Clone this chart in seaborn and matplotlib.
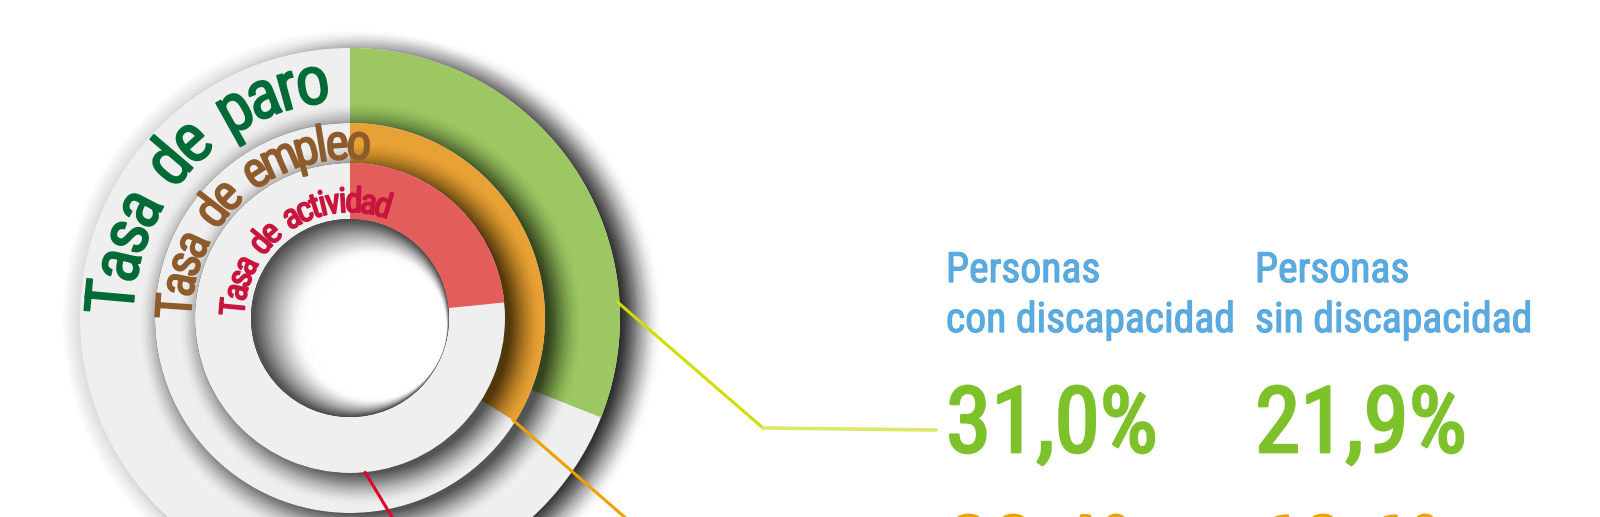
import numpy as np
import matplotlib
matplotlib.use('Agg')
import matplotlib.pyplot as plt
import matplotlib.patheffects as pe
from matplotlib import font_manager as fm
from matplotlib.patches import Circle, Wedge
import seaborn as sns

# Data read from the infographic
ring_labels = ['Tasa de paro', 'Tasa de empleo', 'Tasa de actividad']
ring_values = [31.0, 33.9, 23.4]          # arc extent of each ring (%)
ring_colors = ['#9cc763', '#e8a134', '#e35d5b']
label_colors = ['#006b36', '#8e5b2c', '#c8153d']

groups = ['Personas\ncon discapacidad', 'Personas\nsin discapacidad']
paro = [31.0, 21.9]
empleo = [23.4, 60.6]
row_colors = ['#7dc22b', '#f0a000']
lead_colors = ['#d2dc00', '#f0a000', '#e4002b']


def pick_font(names):
    for n in names:
        try:
            fm.findfont(fm.FontProperties(family=n), fallback_to_default=False)
            return n
        except ValueError:
            continue
    return 'DejaVu Sans'


COND = pick_font(['Roboto Condensed', 'Liberation Sans Narrow', 'Liberation Sans'])

sns.set_theme(style='white')
plt.rcParams['font.family'] = [COND, 'DejaVu Sans']

W, H = 1600, 517
cx, cy = 350, 318
bands = [(195, 270), (155, 195), (99, 155)]

fig = plt.figure(figsize=(16, 5.17), dpi=100)
ax = fig.add_axes([0, 0, 1, 1])
ax.set_xlim(0, W)
ax.set_ylim(H, 0)
ax.axis('off')


def shadow(r0, off, n, step, amax, z):
    for k in range(n):
        a = amax * (1 - k / n)
        ax.add_patch(Circle((cx + off[0], cy + off[1]), r0 + k * step,
                            fc='black', alpha=a, lw=0, zorder=z))


# outer halo + drop shadow
for k in range(12):
    ax.add_patch(Circle((cx, cy), 270 + k * 1.6, fc='black', alpha=0.012, lw=0, zorder=1))
shadow(250, (22, 4), 30, 1.4, 0.085, 1)

z = 2
for i, (r_in, r_out) in enumerate(bands):
    if i > 0:
        shadow(r_out - 5, (10, 6), 22, 1.5, 0.08, z)
    ax.add_patch(Wedge((cx, cy), r_out, 0, 360, width=r_out - r_in,
                       fc='#efefef', lw=0, zorder=z + 1))
    ax.add_patch(Wedge((cx, cy), r_out, -90, -90 + ring_values[i] * 3.6,
                       width=r_out - r_in, fc=ring_colors[i], lw=0, zorder=z + 2))
    z += 3

# hole with inner shadow
r_h = bands[-1][0]
ax.add_patch(Circle((cx, cy), r_h, fc='#454545', lw=0, zorder=z))
n = 44
for i in range(n):
    t = i / (n - 1)
    a = 32 * t ** 0.7
    ax.add_patch(Circle((cx + a * 0.9, cy + a * 0.35), r_h - a, fc='white',
                        alpha=0.07 + 0.93 * t ** 4, lw=0, zorder=z + 1))


# curved labels
def arc_text(s, r, theta0, size, color, spacing):
    fp = fm.FontProperties(family=COND, size=size)
    font = fm.get_font(fm.findfont(fp))
    font.set_size(size, 100)
    pos = 0.0
    for ch in s:
        adv = font.load_char(ord(ch)).linearHoriAdvance / 65536.0
        adv *= 1.3 if ch == ' ' else spacing
        th = theta0 + np.degrees((pos + adv / 2) / r)
        phi = np.radians(th - 90)
        if ch != ' ':
            ax.text(cx + r * np.cos(phi), cy + r * np.sin(phi), ch,
                    fontproperties=fp, color=color, rotation=(360 - th) % 360,
                    rotation_mode='anchor', ha='center', va='baseline', zorder=20,
                    path_effects=[pe.withStroke(linewidth=1.2, foreground=color)])
        pos += adv


arc_r = [217, 159, 106]
arc_size = [49, 36, 25]
arc_start = [271, 270, 271.5]
arc_spacing = [0.87, 0.82, 0.8]
for i, lab in enumerate(ring_labels):
    arc_text(lab, arc_r[i], arc_start[i], arc_size[i], label_colors[i], arc_spacing[i])


# leader lines
def polar(r, th):
    phi = np.radians(th - 90)
    return cx + r * np.cos(phi), cy + r * np.sin(phi)


x0, y0 = polar(268, 86.6)
ax.plot([x0, 763], [y0, 428], color=lead_colors[0], lw=2.2, zorder=21)
ax.plot([763, 936], [428, 430], color='#dde86a', lw=2.6, zorder=21)
x0, y0 = polar(192, ring_values[1] * 3.6)
ax.plot([x0, x0 + 1.15 * 148, 936], [y0, y0 + 148, y0 + 148], color=lead_colors[1],
        lw=2.2, zorder=21)
x0, y0 = polar(155, 174.4)
ax.plot([x0, x0 + 0.6 * 150], [y0, y0 + 150], color=lead_colors[2], lw=2.2, zorder=21)

# right hand text
col_x = [946, 1255]
for j, g in enumerate(groups):
    for k, line in enumerate(g.split('\n')):
        ax.text(col_x[j], 282 + 50 * k, line, color='#5aaae0', fontsize=30,
                ha='left', va='baseline', zorder=20,
                path_effects=[pe.withStroke(linewidth=0.9, foreground='#5aaae0')])
    ax.text(col_x[j], 452, f'{paro[j]:.1f}'.replace('.', ',') + '%',
            color=row_colors[0], fontsize=66, ha='left', va='baseline', zorder=20,
            path_effects=[pe.withStroke(linewidth=2.0, foreground=row_colors[0])])
    ax.text(col_x[j], 581, f'{empleo[j]:.1f}'.replace('.', ',') + '%',
            color=row_colors[1], fontsize=66, ha='left', va='baseline', zorder=20,
            path_effects=[pe.withStroke(linewidth=2.0, foreground=row_colors[1])])

fig.savefig('out.png', dpi=100, facecolor='white')
